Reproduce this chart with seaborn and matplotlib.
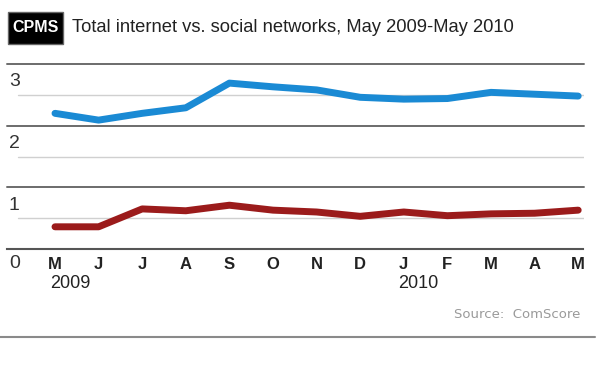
import numpy as np
import pandas as pd
import seaborn as sns
import matplotlib.pyplot as plt
import matplotlib.patches as mpatches
import matplotlib.transforms as mtransforms

# Data
months = ["M", "J", "J", "A", "S", "O", "N", "D", "J", "F", "M", "A", "M"]
total_internet = [2.20, 2.09, 2.20, 2.29, 2.69, 2.63, 2.58, 2.46, 2.43, 2.44, 2.54, 2.51, 2.48]
social_networks = [0.36, 0.36, 0.65, 0.62, 0.71, 0.63, 0.60, 0.53, 0.60, 0.54, 0.57, 0.58, 0.63]
year_labels = {0: "2009", 8: "2010"}
y_major = [1, 2, 3]
y_minor = [0.5, 1.5, 2.5]

df = pd.DataFrame({
    "idx": list(range(len(months))) * 2,
    "cpm": total_internet + social_networks,
    "series": ["Total internet"] * len(months) + ["Social networks"] * len(months),
})

sns.set_style("white")
plt.rcParams["font.family"] = ["Liberation Sans", "DejaVu Sans"]

fig = plt.figure(figsize=(6, 3.69), dpi=100)
W, H = 600, 369
# axes: x from px 7 to 584, y from px 249 (0) to 64 (3)
x0 = (7 - 55) / 43.6
x1 = (584 - 55) / 43.6
ax = fig.add_axes([7 / W, (H - 249) / H, (584 - 7) / W, (249 - 64) / H])
ax.set_xlim(x0, x1)
ax.set_ylim(0, 3)

# gridlines
for v in y_major:
    ax.axhline(v, color="#6b6b6b", lw=1.4, zorder=1, clip_on=False)
for v in y_minor:
    ax.axhline(v, xmin=(18 - 7) / (584 - 7), color="#d0d0d0", lw=1.0, zorder=1)

sns.lineplot(data=df, x="idx", y="cpm", hue="series",
             palette={"Total internet": "#1a8ad4", "Social networks": "#9b1b1b"},
             lw=5, legend=False, ax=ax, zorder=3, solid_capstyle="round")

sns.despine(ax=ax, left=True, top=True, right=True)
ax.spines["bottom"].set_color("#555555")
ax.spines["bottom"].set_linewidth(1.5)
ax.spines["bottom"].set_bounds(x0, 12.1)

ax.set_xticks(range(len(months)))
ax.set_xticklabels(months, fontsize=12, fontweight="bold", color="#222222")
ax.tick_params(axis="x", direction="in", length=5, width=1, color="#555555", pad=6)
ax.set_yticks([])
ax.set_xlabel("")
ax.set_ylabel("")

# y labels sit just below their gridlines
ytrans = mtransforms.blended_transform_factory(fig.transFigure, ax.transData)
for v in [0] + y_major:
    off = 0.1 if v == 0 else 0.15
    ax.text(9 / W, v - off, str(v), transform=ytrans, ha="left", va="top",
            fontsize=14, color="#333333")

# year labels under the month labels
xtrans = mtransforms.blended_transform_factory(ax.transData, fig.transFigure)
for i, yr in year_labels.items():
    ax.text(i - 0.12, (H - 284) / H, yr, transform=xtrans, ha="left", va="center",
            fontsize=13, color="#222222")

# title block
fig.add_artist(mpatches.Rectangle((8 / W, (H - 44) / H), 55 / W, 32 / H,
                                  transform=fig.transFigure, fc="black", ec="#666666", lw=1))
fig.text(35.5 / W, (H - 28) / H, "CPMS", fontsize=11.5, fontweight="bold", color="white",
         ha="center", va="center")
fig.text(72 / W, (H - 28) / H, "Total internet vs. social networks, May 2009-May 2010",
         fontsize=13.2, color="#222222", ha="left", va="center")

fig.text(580 / W, (H - 314) / H, "Source:  ComScore", fontsize=9.5, color="#9a9a9a",
         ha="right", va="center", family=["DejaVu Sans"])
fig.add_artist(plt.Line2D([0, 595 / W], [(H - 337) / H] * 2, color="#8a8a8a", lw=1.5))

fig.savefig("out.png", dpi=100)
